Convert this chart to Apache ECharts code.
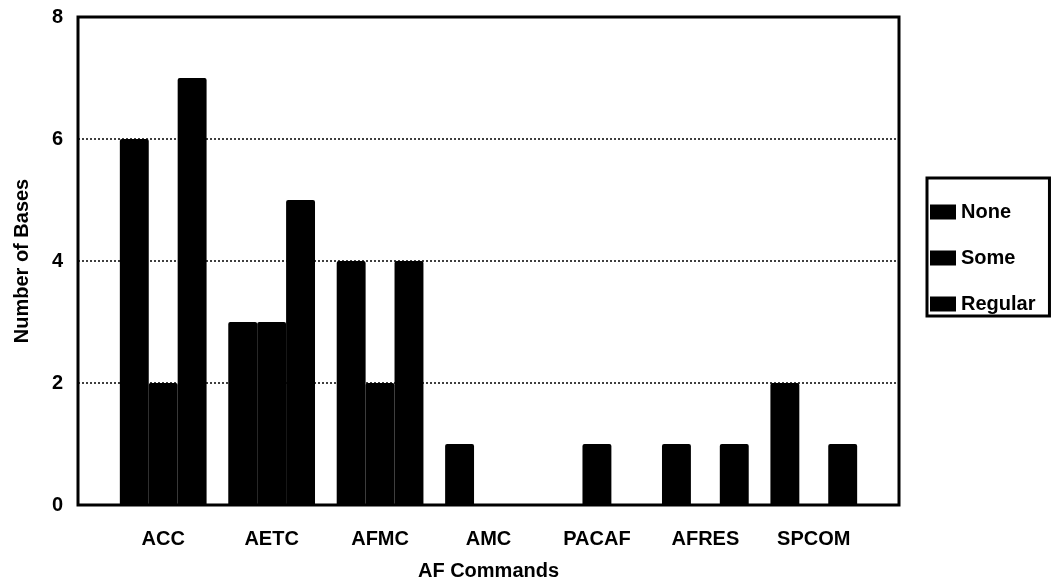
<!DOCTYPE html>
<html>
<head>
<meta charset="utf-8">
<script src="https://cdn.jsdelivr.net/npm/echarts@6/dist/echarts.min.js"></script>
<style>
html,body{margin:0;padding:0;background:#fff;}
#chart{width:1055px;height:583px;}
</style>
</head>
<body>
<div id="chart"></div>
<script>
const categories = ['ACC', 'AETC', 'AFMC', 'AMC', 'PACAF', 'AFRES', 'SPCOM'];
const noneValues = [6, 3, 4, 1, 0, 1, 2];
const someValues = [2, 3, 2, 0, 1, 0, 0];
const regularValues = [7, 5, 4, 0, 0, 1, 1];
const seriesNames = ['None', 'Some', 'Regular'];
const yTicks = [0, 2, 4, 6, 8];

const FONT = '"Liberation Sans", Arial, sans-serif';
const chart = echarts.init(document.getElementById('chart'));
const txt = {fontFamily: FONT, fontWeight: 'bold', fontSize: 20, color: '#000'};

const mk = (name, data) => ({
  name: name,
  type: 'bar',
  xAxisIndex: 1,
  yAxisIndex: 1,
  data: data,
  barGap: '0%',
  barCategoryGap: '20%',
  itemStyle: {color: '#000', borderRadius: [2, 2, 0, 0]},
  emphasis: {disabled: true}
});

chart.setOption({
  animation: false,
  backgroundColor: '#fff',
  grid: [
    {left: 78, right: 156, top: 17, bottom: 78, outerBoundsMode: 'none', containLabel: false, show: true, borderColor: '#000', borderWidth: 3, backgroundColor: 'transparent'},
    {left: 109, right: 187, top: 17, bottom: 78, outerBoundsMode: 'none', containLabel: false}
  ],
  xAxis: [
    {type: 'value', gridIndex: 0, show: false, min: 0, max: 1},
    {
      type: 'category', gridIndex: 1, data: categories,
      axisLine: {show: false}, axisTick: {show: false},
      axisLabel: Object.assign({margin: 24}, txt),
      name: 'AF Commands', nameLocation: 'middle', nameGap: 56,
      nameTextStyle: txt
    }
  ],
  yAxis: [
    {
      type: 'value', gridIndex: 0, min: yTicks[0], max: yTicks[yTicks.length - 1], interval: 2,
      axisLine: {show: false}, axisTick: {show: false},
      axisLabel: Object.assign({margin: 15, padding: [8, 0, 0, 0]}, txt),
      splitLine: {show: true, lineStyle: {color: '#000', type: [2, 2], width: 1.5}},
      name: 'Number of Bases', nameLocation: 'middle', nameGap: 46,
      nameTextStyle: txt
    },
    {type: 'value', gridIndex: 1, min: 0, max: 8, show: false, splitLine: {show: false}}
  ],
  legend: {
    data: seriesNames,
    orient: 'vertical',
    left: 927, top: 178,
    padding: [24, 14, 2, 3],
    itemGap: 26,
    itemWidth: 26, itemHeight: 15,
    icon: 'rect',
    borderColor: '#000', borderWidth: 3,
    textStyle: txt,
    selectedMode: false
  },
  series: [
    mk(seriesNames[0], noneValues),
    mk(seriesNames[1], someValues),
    mk(seriesNames[2], regularValues)
  ]
});
</script>
</body>
</html>
